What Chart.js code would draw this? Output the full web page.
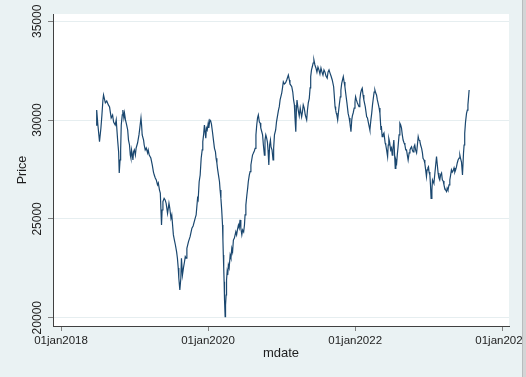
<!DOCTYPE html>
<html>
<head>
<meta charset="utf-8">
<script src="https://cdn.jsdelivr.net/npm/chart.js@4"></script>
<style>
  html, body { margin: 0; padding: 0; background: #eaf2f3; }
  canvas { display: block; }
</style>
</head>
<body>
<canvas id="priceChart" width="526" height="377"></canvas>
<script>
// Stata daily dates (days since 01jan1960) and price
const mdate = [
  21359, 21362, 21368, 21376, 21383, 21388, 21393, 21396, 21405, 21412, 21420, 21426,
  21434, 21441, 21446, 21454, 21459, 21466, 21471, 21474, 21478, 21481, 21484, 21489,
  21492, 21497, 21500, 21505, 21511, 21516, 21520, 21525, 21529, 21532, 21535, 21539,
  21542, 21545, 21549, 21554, 21558, 21565, 21572, 21575, 21582, 21585, 21588, 21595,
  21598, 21603, 21608, 21615, 21618, 21623, 21631, 21638, 21644, 21648, 21653, 21658,
  21664, 21668, 21674, 21678, 21684, 21687, 21691, 21697, 21702, 21707, 21714, 21721,
  21725, 21731, 21735, 21739, 21743, 21748, 21753, 21759, 21763, 21767, 21770, 21775,
  21780, 21783, 21788, 21793, 21798, 21802, 21806, 21810, 21818, 21826,
  21835, 21841, 21851, 21856, 21863, 21866, 21871, 21876, 21881, 21886, 21889, 21893,
  21897, 21901, 21904, 21907, 21911, 21916, 21919, 21924, 21928, 21932, 21937, 21942,
  21947, 21952, 21955, 21959, 21962, 21967, 21972, 21975, 21979, 21983, 21987, 21989,
  21991, 21993, 21995, 21997, 22000, 22002, 22005, 22007, 22010, 22013, 22016, 22020,
  22025, 22029, 22033, 22037, 22041, 22046, 22053, 22057, 22061, 22066, 22070, 22074,
  22078, 22083, 22087, 22092, 22096, 22099, 22103, 22108, 22112, 22115, 22120, 22124,
  22128, 22132, 22136, 22140, 22145, 22149, 22153, 22157, 22161, 22165, 22170, 22174,
  22177, 22182, 22186, 22190, 22195, 22198, 22202, 22206, 22210, 22213, 22217, 22221,
  22225, 22228, 22233, 22238, 22241, 22245, 22251, 22255, 22261, 22265, 22269,
  22273, 22281, 22285, 22289, 22294, 22300, 22306, 22314, 22319, 22322, 22331, 22336,
  22340, 22344, 22347, 22351, 22354, 22357, 22363, 22368, 22373, 22380, 22384, 22388,
  22393, 22398, 22405, 22409, 22413, 22418, 22422, 22425, 22429, 22433, 22437, 22441,
  22446, 22451, 22456, 22461, 22466, 22471, 22476, 22481, 22486, 22491, 22496, 22501,
  22507, 22511, 22516, 22521, 22526, 22532, 22539, 22542, 22546, 22549, 22552, 22555,
  22559, 22563, 22567, 22572, 22575, 22579, 22583, 22587, 22591, 22595, 22600, 22605,
  22611, 22616, 22620, 22625, 22629, 22632, 22636, 22641, 22645, 22648, 22652, 22657,
  22665, 22669, 22673, 22677, 22681, 22685, 22689, 22696, 22703, 22707, 22711, 22715,
  22719,
  22724, 22728, 22732, 22735, 22740, 22744, 22748, 22752, 22756, 22760, 22765, 22769,
  22774, 22776, 22780, 22784, 22789, 22795, 22798, 22802, 22807, 22810, 22813, 22817,
  22822, 22826, 22830, 22833, 22838, 22843, 22845, 22848, 22852, 22855, 22859, 22864,
  22868, 22872, 22876, 22880, 22884, 22889, 22893, 22897, 22901, 22905, 22909, 22914,
  22918, 22922, 22926, 22930, 22934, 22938, 22942, 22946, 22951, 22955, 22959, 22963,
  22967, 22971, 22976, 22980, 22983, 22988, 22992, 22996, 23000, 23003, 23007, 23010,
  23013, 23017, 23020, 23023, 23027, 23030, 23034, 23037, 23041, 23045, 23050, 23054,
  23058, 23062, 23066, 23070, 23075, 23079, 23083, 23087, 23091, 23095, 23100, 23103,
  23107, 23112, 23116, 23120, 23124, 23128, 23132, 23137, 23141, 23145, 23149, 23153,
  23157, 23162, 23166, 23169, 23174, 23179, 23184, 23187, 23190, 23194, 23199, 23203,
  23206, 23212
];

const price = [
  29750, 30510, 29750, 28910, 29600, 30260, 31020, 31270, 30870, 30970, 30770, 30660,
  30110, 30260, 29900, 29750, 30010, 28990, 28390, 27320, 27980, 28490, 29750, 30260,
  30510, 30110, 30360, 30010, 29750, 29500, 28990, 28740, 28230, 28080, 28490, 28230,
  27980, 28390, 28490, 28230, 28590, 28840, 29250, 29500, 30110, 29750, 29250, 28990,
  28740, 28490, 28590, 28340, 28490, 28230, 28080, 27730, 27370, 27220, 27070, 26970,
  26720, 26820, 26460, 26310, 24690, 25450, 25870, 26040, 25960, 25790, 25280, 25790,
  25550, 25030, 25200, 24690, 24190, 23930, 23680, 23330, 23010, 22520, 22000, 21400,
  22000, 23010, 22160, 22520, 22820, 23090, 23020, 23510, 23850, 24100,
  24530, 24640, 25030, 25200, 26040, 25960, 26880, 27220, 28070, 28490, 28910, 29250,
  29750, 29350, 29080, 29600, 29500, 29850, 29600, 30010, 29960, 29800, 29410, 28990,
  28570, 28390, 28070, 27830, 27560, 27220, 26880, 26460, 26040, 25450, 24690, 23930,
  23170, 22520, 21820, 20900, 20050, 20640, 21150, 21910, 22330, 22160, 22670, 22520,
  23170, 23020, 23510, 23330, 23930, 24030, 24350, 24190, 24440, 24690, 24540, 24950,
  24540, 24190, 24440, 24340, 24690, 25200, 25700, 26210, 26560, 26880, 27220, 27390,
  27730, 27980, 28230, 28320, 28440, 28570, 29250, 29750, 30110, 30260, 29900, 29850,
  29600, 29410, 29250, 28740, 28230, 28990, 29250, 29100, 28890, 28490, 27730, 28740,
  28990, 28640, 28490, 27980, 28590, 29250, 29500, 29900, 30260, 30510, 30680,
  31020, 31360, 31630, 31940, 31830, 31880, 32030, 32280, 32030, 31830, 31690, 31420,
  31020, 30770, 30110, 29410, 30510, 31020, 30510, 30210, 30610, 30170, 30410, 30770,
  30610, 30260, 30010, 30510, 30870, 31100, 31630, 32200, 32540, 32700, 32890, 33040,
  32790, 32640, 32430, 32690, 32540, 32330, 32640, 32430, 32280, 32540, 32430, 32230,
  32120, 32430, 32540, 32380, 32230, 32030, 31690, 31270, 30680, 30510, 30360, 30260,
  30010, 30410, 30770, 31180, 31520, 31860, 32030, 32200, 31930, 31690, 31270, 30870,
  30340, 30110, 29840, 29410, 30010, 30210, 30360, 30610, 30920, 31180, 31020, 30870,
  30680, 31020, 31360, 31520, 31610, 31270, 31020, 30680, 30170, 30110, 29900, 29700,
  29500,
  30010, 30340, 30770, 31020, 31420, 31520, 31370, 31270, 31020, 30850, 30610, 30340,
  29500, 29700, 29160, 29250, 29350, 28830, 28740, 28490, 28150, 28740, 29080, 28890,
  28490, 28590, 28230, 28490, 28990, 27980, 27560, 27980, 27830, 28230, 28650, 29250,
  29840, 29750, 29600, 29250, 28990, 28840, 28740, 28490, 28490, 28230, 27980, 28340,
  28490, 28590, 28650, 28490, 28390, 28640, 28740, 28490, 28340, 28740, 29160, 28990,
  28950, 28740, 28570, 28340, 28070, 27980, 27810, 27480, 27140, 27480, 27580, 27640,
  27370, 27220, 26720, 26040, 26460, 26970, 26870, 26800, 27220, 27640, 28150, 27730,
  27320, 27070, 26970, 27220, 27320, 26970, 26920, 26720, 26550, 26460, 26380, 26560,
  26460, 26720, 26970, 27220, 27480, 27370, 27430, 27580, 27370, 27480, 27630, 27830,
  27980, 28080, 28230, 28080, 27880, 27220, 28320, 28740, 29330, 29900, 30340, 30510,
  30770, 31520
];

// Axis ticks
const xTicks = [21185, 21915, 22646, 23376];
const xTickLabels = ["01jan2018", "01jan2020", "01jan2022", "01jan2024"];
const yTicks = [20000, 25000, 30000, 35000];

const FONT = '"Liberation Sans", Arial, sans-serif';
Chart.defaults.font.family = FONT;

// Stata-style backdrop, rotated y labels and the window edge
const stataLook = {
  id: "stataLook",
  beforeDraw(chart) {
    const { ctx, chartArea: a } = chart;
    ctx.save();
    ctx.fillStyle = "#eaf2f3";
    ctx.fillRect(0, 0, chart.width, chart.height);
    ctx.fillStyle = "#ffffff";
    ctx.fillRect(a.left, a.top, a.right - a.left, a.bottom - a.top);
    ctx.restore();
  },
  afterDraw(chart) {
    const { ctx } = chart;
    const yScale = chart.scales.y;
    ctx.save();
    ctx.fillStyle = "#1e1e1e";
    ctx.font = "12px " + FONT;
    ctx.textAlign = "center";
    ctx.textBaseline = "middle";
    yScale.ticks.forEach((t) => {
      ctx.save();
      ctx.translate(yScale.right - 15, yScale.getPixelForValue(t.value));
      ctx.rotate(-Math.PI / 2);
      ctx.fillText(String(t.value), 0, 0);
      ctx.restore();
    });
    ctx.fillStyle = "#d3d5d6";
    ctx.fillRect(522, 0, 4, chart.height);
    ctx.fillStyle = "#b9bcbe";
    ctx.fillRect(522, 0, 1, chart.height);
    ctx.restore();
  },
};

const ctx = document.getElementById("priceChart").getContext("2d");
new Chart(ctx, {
  type: "line",
  data: {
    datasets: [
      {
        label: "Price",
        data: mdate.map((d, i) => ({ x: d, y: price[i] })),
        borderColor: "#1a476f",
        borderWidth: 1.2,
        pointRadius: 0,
        tension: 0,
        fill: false,
      },
    ],
  },
  options: {
    responsive: false,
    animation: false,
    events: [],
    layout: { padding: { top: 14, right: 17, bottom: 0, left: 0 } },
    plugins: { legend: { display: false }, tooltip: { enabled: false } },
    scales: {
      x: {
        type: "linear",
        min: 21145,
        max: 23410,
        afterBuildTicks: (s) => {
          s.ticks = xTicks.map((v) => ({ value: v }));
        },
        afterFit: (s) => {
          s.height = 51;
          s.paddingLeft = 0;
          s.paddingRight = 0;
        },
        ticks: {
          callback: (v, i) => xTickLabels[i],
          font: { size: 11.5 },
          color: "#1e1e1e",
          padding: 3,
          maxRotation: 0,
          autoSkip: false,
        },
        grid: { drawOnChartArea: false, tickLength: 5, tickColor: "#808080" },
        border: { color: "#404040", width: 1 },
        title: {
          display: true,
          text: "mdate",
          font: { size: 13 },
          color: "#1e1e1e",
          padding: { top: 0, bottom: 16 },
        },
      },
      y: {
        min: 19580,
        max: 35370,
        afterBuildTicks: (s) => {
          s.ticks = yTicks.map((v) => ({ value: v }));
        },
        afterFit: (s) => {
          s.width = 53;
          s.paddingTop = 0;
          s.paddingBottom = 0;
        },
        ticks: { display: false },
        grid: { color: "#e6eef0", tickLength: 5, tickColor: "#808080" },
        border: { color: "#404040", width: 1 },
        title: {
          display: true,
          text: "Price",
          font: { size: 12.5 },
          color: "#1e1e1e",
          padding: { top: 15, bottom: 0 },
        },
      },
    },
  },
  plugins: [stataLook],
});
</script>
</body>
</html>
